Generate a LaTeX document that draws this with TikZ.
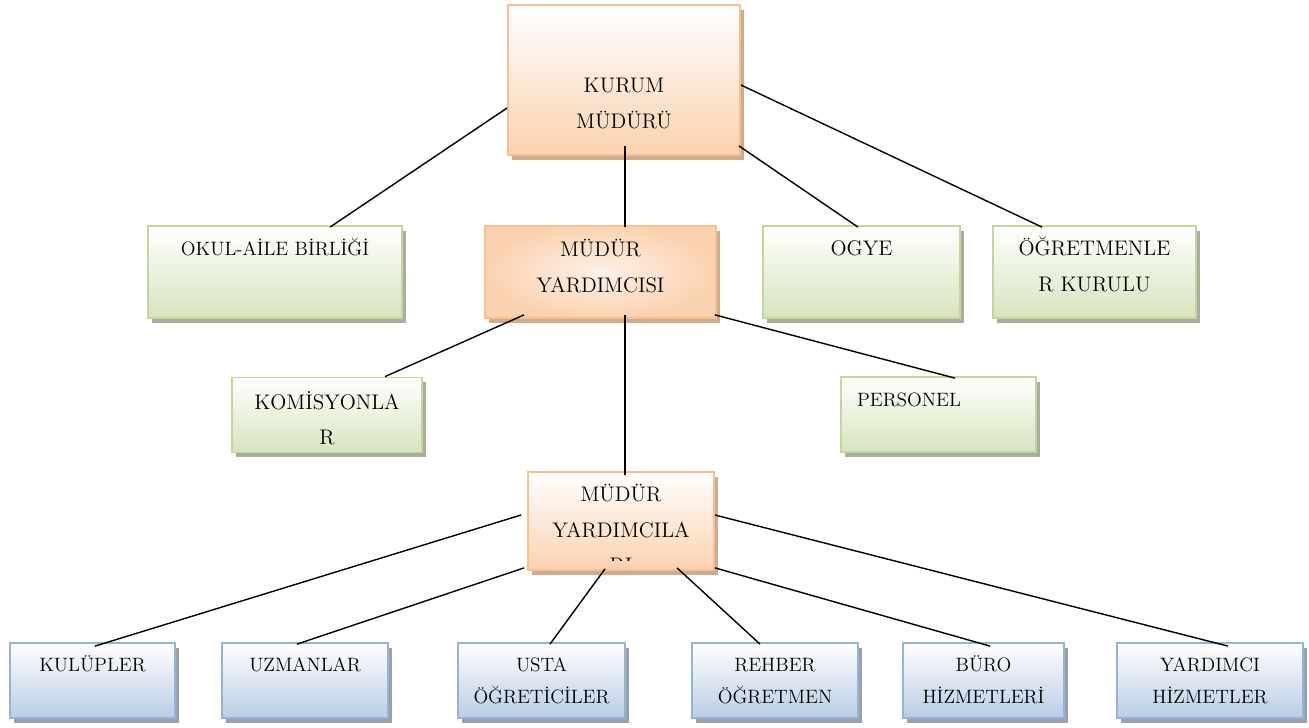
\documentclass[tikz,border=0pt]{standalone}
\usepackage{fontspec}
\usetikzlibrary{shadows}
\definecolor{peachline}{HTML}{F9BF8F}
\definecolor{peachfill}{HTML}{FBD2B0}
\definecolor{peachlight}{HTML}{FEF1E8}
\definecolor{peachshade}{HTML}{C9A27F}
\definecolor{greenline}{HTML}{C3D69B}
\definecolor{greenfill}{HTML}{D7E4BD}
\definecolor{greenshade}{HTML}{9FA592}
\definecolor{blueline}{HTML}{95B3D7}
\definecolor{bluefill}{HTML}{B9CDE5}
\definecolor{blueshade}{HTML}{8C96A6}
\newcommand{\boxtxt}[1]{\begin{tabular}[t]{@{}c@{}}#1\end{tabular}}
\begin{document}
\begin{tikzpicture}[
    box/.style={rectangle, inner sep=0pt, line width=1pt, font=\fontsize{12}{20}\selectfont},
    peachbox/.style={box, drop shadow={shadow xshift=0.08cm, shadow yshift=-0.1cm, fill=peachshade, opacity=0.9}, draw=peachline, top color=white, bottom color=peachfill},
    greenbox/.style={box, drop shadow={shadow xshift=0.08cm, shadow yshift=-0.1cm, fill=greenshade, opacity=0.9}, draw=greenline, top color=white, bottom color=greenfill, minimum height=1.84cm, text height=0.6cm, text depth=1.24cm},
    bluebox/.style={box, drop shadow={shadow xshift=0.08cm, shadow yshift=-0.1cm, fill=blueshade, opacity=0.9}, draw=blueline, top color=white, bottom color=bluefill, font=\fontsize{11}{18}\selectfont, minimum height=1.5cm, text height=0.58cm, text depth=0.92cm},
    link/.style={line width=0.8pt}]
  \useasboundingbox (0,0) rectangle (26.18,14.56);
  % top
  \node[peachbox, minimum width=4.64cm, minimum height=3cm, text height=1.76cm, text depth=1.24cm] (km) at (12.48,12.96) {\boxtxt{KURUM\\MÜDÜRÜ}};
  % second row
  \node[greenbox, minimum width=5.08cm, font=\fontsize{11}{20}\selectfont] (oab) at (5.5,9.12) {\boxtxt{OKUL-AİLE BİRLİĞİ}};
  \node[peachbox, inner color=peachlight, outer color=peachfill, minimum width=4.62cm, minimum height=1.84cm, text height=0.62cm, text depth=1.22cm] (my) at (12.01,9.12) {\boxtxt{MÜDÜR\\YARDIMCISI}};
  \node[greenbox, minimum width=3.94cm] (ogye) at (17.23,9.12) {\boxtxt{OGYE}};
  \node[greenbox, minimum width=4.06cm] (ogk) at (21.89,9.12) {\boxtxt{ÖĞRETMENLE\\R KURULU}};
  % third row
  \node[greenbox, minimum width=3.8cm, minimum height=1.5cm, text height=0.64cm, text depth=0.86cm] (kom) at (6.54,6.26) {\boxtxt{KOMİSYONLA\\R}};
  \node[greenbox, minimum width=3.9cm, minimum height=1.5cm, inner xsep=0.32cm, text width=3.26cm, align=left, text height=0.6cm, text depth=0.9cm, font=\fontsize{11}{18}\selectfont] (per) at (18.77,6.27) {PERSONEL};
  \node[peachbox, minimum width=3.72cm, minimum height=1.96cm] (mys) at (12.42,4.14) {};
  \begin{scope}
    \clip ([yshift=0.2cm]mys.south west) rectangle (mys.north east);
    \node[box, anchor=north, text height=0.6cm] (mystext) at (mys.north) {\boxtxt{MÜDÜR\\YARDIMCILA\\RI}};
  \end{scope}
  % bottom row
  \node[bluebox, minimum width=3.3cm] (kul) at (1.85,0.95) {\boxtxt{KULÜPLER}};
  \node[bluebox, minimum width=3.32cm] (uzm) at (6.1,0.95) {\boxtxt{UZMANLAR}};
  \node[bluebox, minimum width=3.34cm] (ust) at (10.83,0.95) {\boxtxt{USTA\\ÖĞRETİCİLER}};
  \node[bluebox, minimum width=3.32cm] (reh) at (15.5,0.95) {\boxtxt{REHBER\\ÖĞRETMEN}};
  \node[bluebox, minimum width=3.22cm] (bur) at (19.67,0.95) {\boxtxt{BÜRO\\HİZMETLERİ}};
  \node[bluebox, minimum width=3.72cm] (yrd) at (24.2,0.95) {\boxtxt{YARDIMCI\\HİZMETLER}};
  % lines
  \draw[link] ([yshift=-0.56cm]km.west) -- ([shift={(1.1,-0.04)}]oab.north);
  \draw[link] ([shift={(0.02,0.2)}]km.south) -- ([shift={(0.49,-0.04)}]my.north);
  \draw[link] ([shift={(-0.04,0.2)}]km.south east) -- ([shift={(-0.07,-0.04)}]ogye.north);
  \draw[link] ([yshift=-0.1cm]km.east) -- ([shift={(-1.05,-0.04)}]ogk.north);
  \draw[link] ([shift={(0.8,0.08)}]my.south west) -- ([xshift=1.16cm]kom.north);
  \draw[link] ([shift={(0.49,0.08)}]my.south) -- ([shift={(0.08,-0.08)}]mys.north);
  \draw[link] ([shift={(-0.04,0.08)}]my.south east) -- ([shift={(0.33,-0.04)}]per.north);
  \draw[link] ([shift={(-0.12,0.12)}]mys.west) -- ([shift={(0.05,-0.08)}]kul.north);
  \draw[link] ([shift={(-0.06,0.06)}]mys.south west) -- ([shift={(-0.16,-0.04)}]uzm.north);
  \draw[link] ([shift={(-0.32,0.04)}]mys.south) -- ([shift={(0.17,-0.04)}]ust.north);
  \draw[link] ([shift={(1.12,0.06)}]mys.south) -- ([shift={(-0.3,-0.04)}]reh.north);
  \draw[link] ([yshift=0.06cm]mys.south east) -- ([shift={(0.13,-0.08)}]bur.north);
  \draw[link] ([yshift=0.12cm]mys.east) -- ([shift={(0.36,-0.08)}]yrd.north);
\end{tikzpicture}
\end{document}
